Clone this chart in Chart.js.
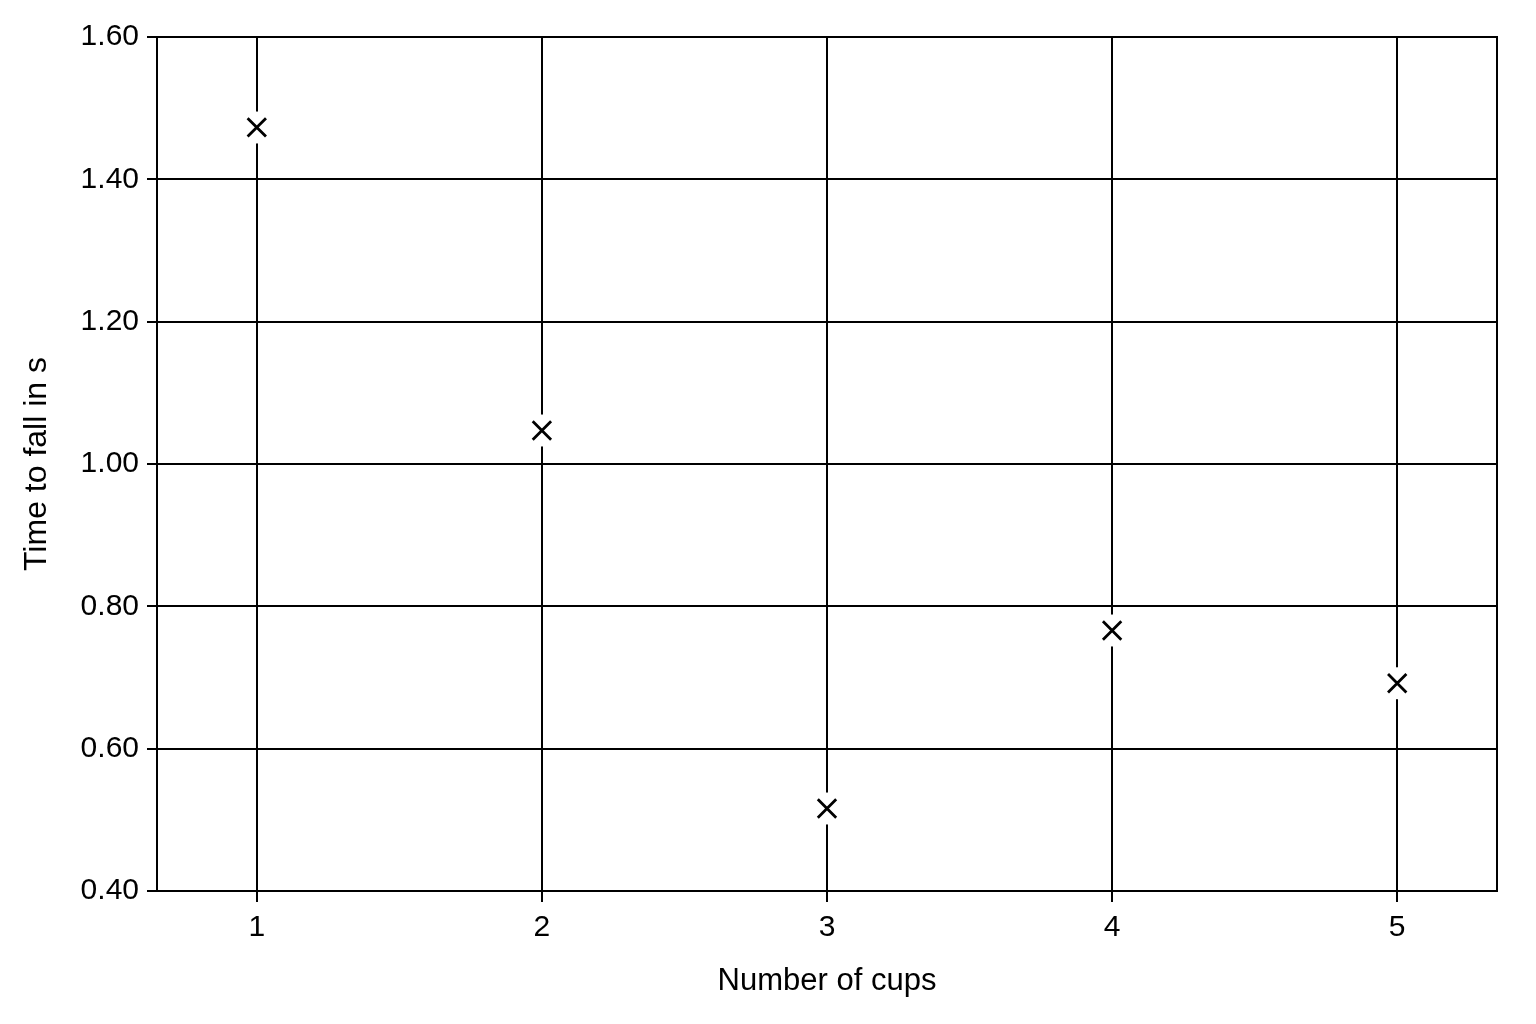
<!DOCTYPE html>
<html>
<head>
<meta charset="utf-8">
<script src="https://cdn.jsdelivr.net/npm/chart.js@4/dist/chart.umd.min.js"></script>
<style>
  html, body { margin: 0; padding: 0; background: #fff; }
  #wrap { width: 1536px; height: 1024px; }
</style>
</head>
<body>
<div id="wrap"><canvas id="fallChart" width="1536" height="1024"></canvas></div>
<script>
// Cup drop experiment - time to fall vs number of cups
const cups = [1, 2, 3, 4, 5];
const fallTimes = [1.473, 1.047, 0.516, 0.766, 0.692];
const yTicks = [0.40, 0.60, 0.80, 1.00, 1.20, 1.40, 1.60];

const FONT = '"Liberation Sans Narrow", "Liberation Sans", Arial, sans-serif';

const points = cups.map((c, i) => ({ x: c, y: fallTimes[i] }));

// draw the frame round the plot area (top/right edges have no ticks)
const frame = {
    id: 'frame',
    afterDatasetsDraw(chart) {
        const a = chart.chartArea;
        const ctx = chart.ctx;
        ctx.save();
        ctx.strokeStyle = '#000';
        ctx.lineWidth = 2;
        ctx.strokeRect(a.left, a.top, a.right - a.left, a.bottom - a.top);
        ctx.restore();
    }
};

new Chart(document.getElementById('fallChart'), {
    type: 'scatter',
    data: {
        datasets: [
            {
                // white halo that breaks the grid line round each marker
                label: 'halo',
                data: points,
                pointStyle: 'circle',
                pointRadius: 16,
                pointBackgroundColor: '#fff',
                pointBorderWidth: 0,
                pointBorderColor: '#fff',
                order: 2
            },
            {
                label: 'Time to fall',
                data: points,
                pointStyle: 'crossRot',
                pointRadius: 13,
                pointBorderColor: '#000',
                pointBorderWidth: 2.8,
                order: 1
            }
        ]
    },
    options: {
        responsive: false,
        animation: false,
        devicePixelRatio: 1,
        layout: { padding: { top: 37, right: 39, left: 0, bottom: 0 } },
        plugins: {
            legend: { display: false },
            tooltip: { enabled: false }
        },
        scales: {
            x: {
                type: 'linear',
                min: 0.65,
                max: 5.35,
                afterBuildTicks(scale) {
                    scale.ticks = cups.map(v => ({ value: v }));
                },
                afterFit(scale) { scale.height = 133; },
                grid: { color: '#000', lineWidth: 2, tickLength: 11, drawOnChartArea: true },
                border: { display: true, color: '#000', width: 2 },
                ticks: {
                    color: '#000',
                    padding: 8,
                    font: { family: FONT, size: 30 },
                    callback: v => String(v)
                },
                title: {
                    display: true,
                    text: 'Number of cups',
                    color: '#000',
                    font: { family: FONT, size: 31 },
                    padding: { top: 0, bottom: 24 }
                }
            },
            y: {
                min: 0.4,
                max: 1.6,
                afterBuildTicks(scale) {
                    scale.ticks = yTicks.map(v => ({ value: v }));
                },
                afterFit(scale) { scale.width = 157; },
                grid: { color: '#000', lineWidth: 2, tickLength: 10 },
                border: { display: true, color: '#000', width: 2 },
                ticks: {
                    color: '#000',
                    padding: 8,
                    font: { family: FONT, size: 30 },
                    callback: v => v.toFixed(2)
                },
                title: {
                    display: true,
                    text: 'Time to fall in s',
                    color: '#000',
                    font: { family: FONT, size: 32 },
                    padding: { top: 18, bottom: 18 }
                }
            }
        }
    },
    plugins: [frame]
});
</script>
</body>
</html>
